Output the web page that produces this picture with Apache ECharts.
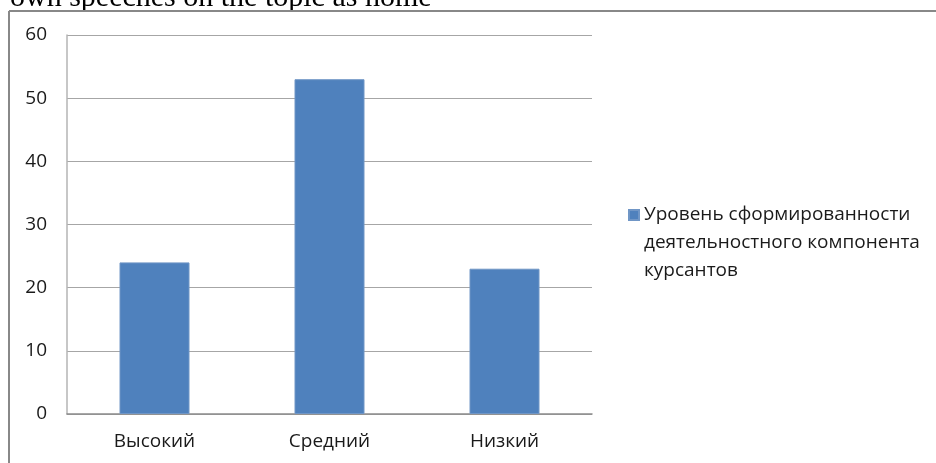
<!DOCTYPE html>
<html>
<head>
<meta charset="utf-8">
<script src="https://cdn.jsdelivr.net/npm/echarts@6/dist/echarts.min.js"></script>
<style>
html,body{margin:0;padding:0;background:#fff;}
#c{width:936px;height:463px;}
</style>
</head>
<body>
<div id="c"></div>
<script>
const categories = ['Высокий', 'Средний', 'Низкий'];
const values = [24, 53, 23];
const seriesName = 'Уровень сформированности\nдеятельностного компонента\nкурсантов';
const yTicks = [0, 10, 20, 30, 40, 50, 60];
const headerText = 'own speeches on the topic as home';

const chart = echarts.init(document.getElementById('c'), null, {renderer: 'canvas'});
const font = '"Open Sans", "Noto Sans", sans-serif';
chart.setOption({
  animation: false,
  backgroundColor: '#fff',
  textStyle: {fontFamily: font},
  graphic: [
    {type: 'text', left: 10, top: -17, style: {text: headerText, font: '30px "Liberation Serif", serif', fill: '#000'}},
    {type: 'line', shape: {x1: 9, y1: 11, x2: 936, y2: 11}, style: {stroke: '#888', lineWidth: 2}},
    {type: 'line', shape: {x1: 9, y1: 11, x2: 9, y2: 463}, style: {stroke: '#888', lineWidth: 2}}
  ],
  grid: {left: 67, right: 344, top: 35, bottom: 49, containLabel: false},
  legend: {
    show: true,
    left: 623,
    top: 196,
    orient: 'vertical',
    icon: 'path://M0,0L10,0L10,10L0,10Z M0,66L0,66',
    itemWidth: 10,
    itemHeight: 66,
    data: [seriesName],
    textStyle: {fontFamily: font, fontSize: 19, color: '#1a1a1a', lineHeight: 28}
  },
  xAxis: {
    type: 'category',
    data: categories,
    axisLine: {lineStyle: {color: '#8c8c8c', width: 1.5}},
    axisTick: {show: false},
    axisLabel: {color: '#1a1a1a', fontSize: 19, margin: 18, fontFamily: font}
  },
  yAxis: {
    type: 'value',
    min: yTicks[0],
    max: yTicks[yTicks.length - 1],
    interval: 10,
    axisLine: {show: true, lineStyle: {color: '#b5b5b5', width: 1.5}},
    axisTick: {show: false},
    axisLabel: {color: '#1a1a1a', fontSize: 19, margin: 20, fontFamily: font},
    splitLine: {lineStyle: {color: '#a6a6a6', width: 1.2}}
  },
  series: [{
    name: seriesName,
    type: 'bar',
    data: values,
    barWidth: '40%',
    itemStyle: {color: '#4f81bd', borderColor: '#7096c6', borderWidth: 1}
  }]
});
</script>
</body>
</html>
